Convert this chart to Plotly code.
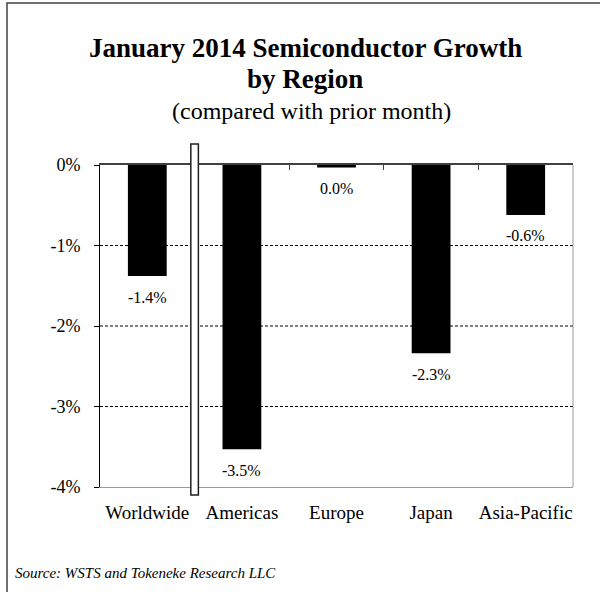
import plotly.graph_objects as go

# Month-over-month change, January 2014, in percent
regions = ["Worldwide", "Americas", "Europe", "Japan", "Asia-Pacific"]
growth_pct = [-1.38, -3.53, -0.03, -2.34, -0.62]

y_ticks = [0, -1, -2, -3, -4]
y_tick_text = ["0%", "-1%", "-2%", "-3%", "-4%"]

title_line1 = "January 2014 Semiconductor Growth"
title_line2 = "by Region"
subtitle = "(compared with prior month)"
source_note = "Source: WSTS and Tokeneke Research LLC"

SERIF = "Liberation Serif, Times New Roman, serif"

# Canvas and plot-area geometry (pixels)
W, H = 600, 592
ML, MR, MT, MB = 100, 27, 165, 105
PW, PH = W - ML - MR, H - MT - MB


def px_x(p):
    return (p - ML) / PW


def px_y(p):
    return (H - MB - p) / PH


def pct_label(v):
    r = round(v, 1)
    if r == 0:
        r = 0.0
    return f"{r:.1f}%"


fig = go.Figure()

fig.add_trace(go.Bar(
    x=regions,
    y=growth_pct,
    width=0.41,
    marker=dict(color="black", line=dict(width=0)),
    hoverinfo="skip",
))

# Second x axis along the 0% line, with ticks on the category boundaries
fig.add_trace(go.Scatter(x=[None], y=[None], xaxis="x2", yaxis="y",
                         showlegend=False, hoverinfo="skip"))

shapes = []
# Dashed horizontal gridlines for the interior ticks
for v in y_ticks[1:-1]:
    shapes.append(dict(type="line", xref="x domain", yref="y", x0=0, x1=1, y0=v, y1=v,
                       line=dict(color="black", width=1, dash="3px,2px"), layer="below"))
# Plot-area border on the right
shapes.append(dict(type="line", xref="x domain", yref="y domain", x0=1, x1=1, y0=0, y1=1,
                   line=dict(color="#9a9a9a", width=1)))
# Separator bar between the worldwide total and the regions
shapes.append(dict(type="rect", xref="x", yref="y domain",
                   x0=0.46, x1=0.54, y0=px_y(495), y1=px_y(144),
                   fillcolor="white", line=dict(color="#202020", width=1.5), layer="above"))
# Outer chart frame
shapes.append(dict(type="rect", xref="paper", yref="paper",
                   x0=px_x(7), x1=px_x(640), y0=px_y(640), y1=px_y(3),
                   fillcolor="rgba(0,0,0,0)", line=dict(color="#404040", width=1.5)))

annotations = []
for r, v in zip(regions, growth_pct):
    annotations.append(dict(x=r, y=v, xref="x", yref="y", text=pct_label(v),
                            showarrow=False, yanchor="middle", yshift=-21,
                            font=dict(family=SERIF, size=16, color="black")))

annotations += [
    dict(x=px_x(305), y=px_y(48), xref="paper", yref="paper", text=f"<b>{title_line1}</b>",
         showarrow=False, xanchor="center", yanchor="middle",
         font=dict(family=SERIF, size=27, color="black")),
    dict(x=px_x(305), y=px_y(79), xref="paper", yref="paper", text=f"<b>{title_line2}</b>",
         showarrow=False, xanchor="center", yanchor="middle",
         font=dict(family=SERIF, size=27, color="black")),
    dict(x=px_x(311), y=px_y(111), xref="paper", yref="paper", text=subtitle,
         showarrow=False, xanchor="center", yanchor="middle",
         font=dict(family=SERIF, size=24, color="black")),
    dict(x=px_x(13), y=px_y(573), xref="paper", yref="paper", text=f"<i>{source_note}</i>",
         showarrow=False, xanchor="left", yanchor="middle",
         font=dict(family=SERIF, size=15, color="black")),
]

fig.update_layout(
    width=W, height=H,
    margin=dict(l=ML, r=MR, t=MT, b=MB, pad=0),
    paper_bgcolor="white", plot_bgcolor="white",
    showlegend=False,
    bargap=0.59,
    xaxis=dict(
        type="category", categoryorder="array", categoryarray=regions,
        range=[-0.5, 4.5],
        side="bottom", showline=True, linecolor="#9a9a9a", linewidth=1,
        ticks="", showgrid=False, zeroline=False,
        tickfont=dict(family=SERIF, size=19, color="black"),
        ticklabelstandoff=8,
    ),
    xaxis2=dict(
        overlaying="x", side="top", anchor="y",
        range=[-0.5, 4.5],
        tickvals=[-0.5, 0.5, 1.5, 2.5, 3.5, 4.5],
        ticks="inside", ticklen=5, tickcolor="#404040", tickwidth=1,
        showticklabels=False, showline=True, linecolor="#404040", linewidth=1.5,
        showgrid=False, zeroline=False,
    ),
    yaxis=dict(
        range=[-4, 0],
        tickvals=y_ticks, ticktext=y_tick_text,
        showline=True, linecolor="black", linewidth=1,
        ticks="outside", ticklen=5, tickcolor="black",
        showgrid=False, zeroline=False,
        tickfont=dict(family=SERIF, size=18, color="black"),
        ticklabelstandoff=10,
    ),
    shapes=shapes,
    annotations=annotations,
)

fig.write_html("out.html")
